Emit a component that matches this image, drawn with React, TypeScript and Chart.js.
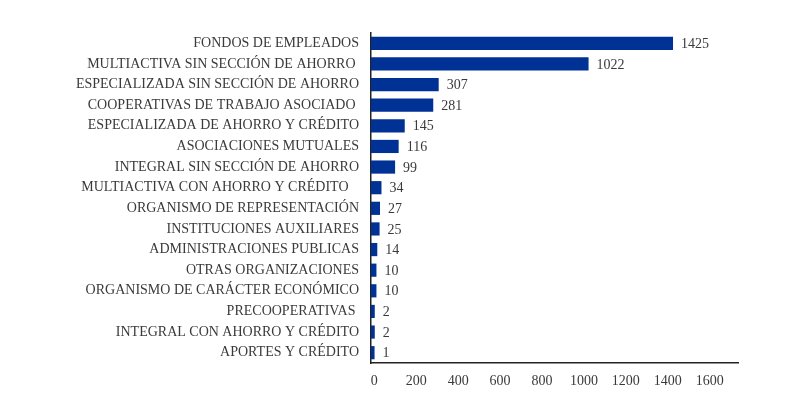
import React, { useEffect, useRef } from "react";
import { Chart, registerables } from "chart.js";

Chart.register(...registerables);

const categories = [
  "FONDOS DE EMPLEADOS",
  "MULTIACTIVA SIN SECCIÓN DE AHORRO ",
  "ESPECIALIZADA SIN SECCIÓN DE AHORRO",
  "COOPERATIVAS DE TRABAJO ASOCIADO ",
  "ESPECIALIZADA DE AHORRO Y CRÉDITO",
  "ASOCIACIONES MUTUALES",
  "INTEGRAL SIN SECCIÓN DE AHORRO",
  "MULTIACTIVA CON AHORRO Y CRÉDITO   ",
  "ORGANISMO DE REPRESENTACIÓN",
  "INSTITUCIONES AUXILIARES",
  "ADMINISTRACIONES PUBLICAS",
  "OTRAS ORGANIZACIONES",
  "ORGANISMO DE CARÁCTER ECONÓMICO",
  "PRECOOPERATIVAS ",
  "INTEGRAL CON AHORRO Y CRÉDITO",
  "APORTES Y CRÉDITO",
];

const values = [1425, 1022, 307, 281, 145, 116, 99, 34, 27, 25, 14, 10, 10, 2, 2, 1];

const xTicks = [0, 200, 400, 600, 800, 1000, 1200, 1400, 1600];

const FONT = "'Liberation Serif', 'DejaVu Serif', serif";
const TEXT = "#3a3a3a";
const BAR = "#003296";
const AXIS_MIN = -16;
const AXIS_MAX = 1735;

const valueLabels = {
  id: "valueLabels",
  afterDatasetsDraw(chart: any) {
    const ctx = chart.ctx;
    const meta = chart.getDatasetMeta(0);
    ctx.save();
    ctx.font = `14px ${FONT}`;
    ctx.fillStyle = TEXT;
    ctx.textAlign = "left";
    ctx.textBaseline = "middle";
    meta.data.forEach((bar: any, i: number) => {
      ctx.fillText(String(values[i]), bar.x + 8, bar.y + 1);
    });
    ctx.restore();
  },
};

export default function App() {
  const ref = useRef<HTMLCanvasElement | null>(null);

  useEffect(() => {
    document.body.style.margin = "0";
    if (!ref.current) return;
    const chart = new Chart(ref.current, {
      type: "bar",
      data: {
        labels: categories,
        datasets: [
          {
            data: values,
            base: AXIS_MIN,
            backgroundColor: BAR,
            borderWidth: 0,
            barPercentage: 0.64,
            categoryPercentage: 1,
          },
        ],
      },
      plugins: [valueLabels],
      options: {
        indexAxis: "y",
        animation: false,
        responsive: false,
        maintainAspectRatio: false,
        layout: { padding: { top: 33, right: 51, left: 0, bottom: 0 } },
        plugins: {
          legend: { display: false },
          tooltip: { enabled: false },
        },
        scales: {
          x: {
            min: AXIS_MIN,
            max: AXIS_MAX,
            afterFit(scale: any) {
              scale.height = 31;
            },
            afterBuildTicks(scale: any) {
              scale.ticks = xTicks.map((v) => ({ value: v }));
            },
            grid: { display: false, drawTicks: false },
            border: { display: true, color: "#222", width: 1.5 },
            ticks: {
              padding: 10,
              color: TEXT,
              font: { family: FONT, size: 14 },
              maxRotation: 0,
              autoSkip: false,
              callback: (v: any) => String(v),
            },
          },
          y: {
            afterFit(scale: any) {
              scale.width = 371;
            },
            grid: { display: false, drawTicks: false },
            border: { display: true, color: "#222", width: 1.5 },
            ticks: {
              padding: 12,
              color: TEXT,
              font: { family: FONT, size: 14 },
              autoSkip: false,
            },
          },
        },
      },
    });
    return () => chart.destroy();
  }, []);

  return (
    <div style={{ position: "absolute", left: 0, top: 0, width: 789, height: 394 }}>
      <canvas ref={ref} width={789} height={394} style={{ display: "block" }} />
    </div>
  );
}
